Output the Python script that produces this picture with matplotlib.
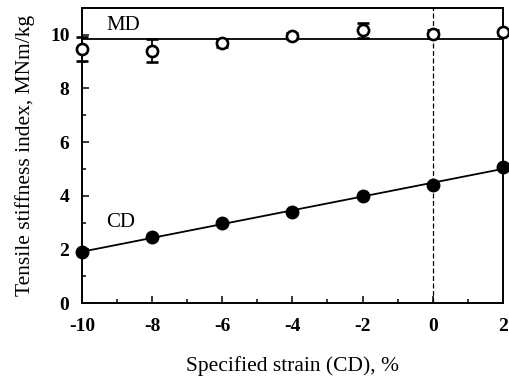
import numpy as np
import matplotlib.pyplot as plt
from matplotlib.ticker import MultipleLocator

plt.rcParams['font.family'] = 'Liberation Serif'
plt.rcParams['axes.unicode_minus'] = False

strain = [-10, -8, -6, -4, -2, 0, 2]
md_index = [9.47, 9.40, 9.71, 9.96, 10.17, 10.03, 10.09]
md_err = [0.43, 0.43, 0.15, 0.10, 0.28, 0.15, 0.10]
cd_index = [1.90, 2.46, 3.00, 3.39, 3.99, 4.41, 5.07]

fig = plt.figure(figsize=(5.09, 3.78), dpi=100)
ax = fig.add_axes([0.161, 0.198, 0.827, 0.781])

# fitted lines
x = np.array(strain, dtype=float)
ax.axhline(np.mean(md_index), color='black', lw=1.3, zorder=2)
k, b = np.polyfit(x, cd_index, 1)
ax.plot(x, k * x + b, color='black', lw=1.3, zorder=2)

ax.axvline(0, color='black', lw=0.9, ls=(0, (4, 2)), zorder=1)

ax.errorbar(strain, md_index, yerr=md_err, fmt='o', mfc='white', mec='black',
            mew=1.9, ms=8, ecolor='black', elinewidth=1.3, capsize=4,
            capthick=1.4, zorder=3, clip_on=False)
ax.plot(strain, cd_index, 'o', color='black', ms=9, zorder=3, clip_on=False)

ax.text(-9.3, 10.35, 'MD', fontsize=15, va='center', ha='left')
ax.text(-9.3, 3.0, 'CD', fontsize=15, va='center', ha='left')

ax.set_xlim(-10, 2)
ax.set_ylim(0, 11)
ax.xaxis.set_major_locator(MultipleLocator(2))
ax.xaxis.set_minor_locator(MultipleLocator(1))
ax.yaxis.set_major_locator(MultipleLocator(2))
ax.yaxis.set_minor_locator(MultipleLocator(1))
ax.tick_params(which='both', direction='in', top=False, right=False)
ax.tick_params(which='major', length=5, width=1.1, labelsize=14)
ax.tick_params(which='minor', length=3, width=1.1)
ax.tick_params(axis='y', pad=9)
ax.tick_params(axis='x', pad=11)
for lab in ax.get_xticklabels() + ax.get_yticklabels():
    lab.set_fontweight('bold')
for sp in ax.spines.values():
    sp.set_linewidth(1.4)

ax.set_xlabel('Specified strain (CD), %', fontsize=15.5, labelpad=15)
ax.set_ylabel('Tensile stiffness index, MNm/kg', fontsize=15.5, labelpad=11)

fig.savefig('out.png', dpi=100)
